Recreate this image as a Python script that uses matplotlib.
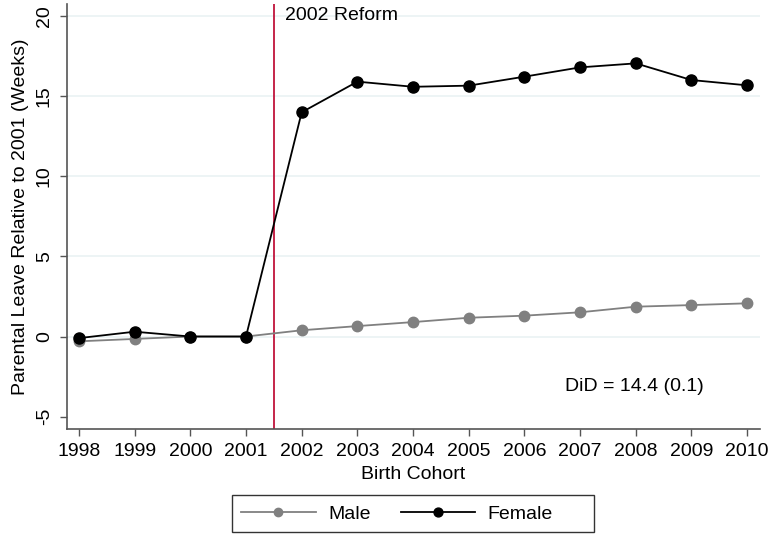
import matplotlib
matplotlib.use('Agg')
import matplotlib.pyplot as plt
from matplotlib.patches import Rectangle

plt.rcParams['font.family'] = ['Liberation Sans', 'DejaVu Sans']

years = [1998, 1999, 2000, 2001, 2002, 2003, 2004, 2005, 2006, 2007, 2008, 2009, 2010]
male = [-0.3, -0.15, 0.0, 0.0, 0.39, 0.65, 0.9, 1.17, 1.3, 1.51, 1.86, 1.96, 2.07]
female = [-0.1, 0.3, 0.0, 0.0, 13.98, 15.89, 15.57, 15.64, 16.2, 16.78, 17.03, 15.99, 15.66]
yticks = [-5, 0, 5, 10, 15, 20]
reform_x = 2001.5
did_text = 'DiD = 14.4 (0.1)'

male_c = '#808080'
fem_c = '#000000'
red = '#c0143c'
axc = '#555555'

W, H = 770., 535.
fig = plt.figure(figsize=(7.7, 5.35), dpi=100)
ax = fig.add_axes([0.0866, 0.198, 0.9004, 0.7945])

for y in [0, 5, 10, 15, 20]:
    ax.axhline(y, color='#eaf2f3', linewidth=1.2, zorder=0)

ax.plot(years, male, color=male_c, marker='o', markersize=7.5,
        linewidth=1.3, label='Male', zorder=3)
ax.plot(years, female, color=fem_c, marker='o', markersize=8,
        linewidth=1.3, label='Female', zorder=4)
ax.axvline(reform_x, color=red, linewidth=1.3, zorder=2)

ax.text(2001.7, 20, '2002 Reform', fontsize=14, va='center', ha='left')
ax.text(2006.73, -3.13, did_text, fontsize=14, va='center', ha='left')

ax.set_xlim(1997.78, 2010.23)
ax.set_ylim(-5.77, 20.73)
ax.set_xticks(years)
ax.set_yticks(yticks)
ax.set_yticklabels([str(v) for v in yticks], rotation=90, va='center')
ax.tick_params(labelsize=14, length=5, color=axc, width=1)
ax.tick_params(axis='y', pad=5)
ax.tick_params(axis='x', pad=5)

for s in ['top', 'right']:
    ax.spines[s].set_visible(False)
for s in ['left', 'bottom']:
    ax.spines[s].set_color(axc)
    ax.spines[s].set_linewidth(1.2)

ax.set_xlabel('Birth Cohort', fontsize=14, labelpad=4.5)
ax.set_ylabel('Parental Leave Relative to 2001 (Weeks)', fontsize=14, labelpad=5)

# legend: box drawn separately so the padding can match the reference
leg = fig.legend(loc='center left', bbox_to_anchor=(241 / W, 1 - 514 / H),
                 ncol=2, fontsize=14, frameon=False, markerscale=0.8,
                 handlelength=3.85, columnspacing=1.55, handletextpad=0.62,
                 borderpad=0.0, borderaxespad=0.0)
fig.patches.append(Rectangle((232 / W, 1 - 532 / H), (594 - 232) / W, 37 / H,
                             transform=fig.transFigure, fill=False,
                             edgecolor='#333333', linewidth=1.0))

fig.savefig('out.png', dpi=100)
